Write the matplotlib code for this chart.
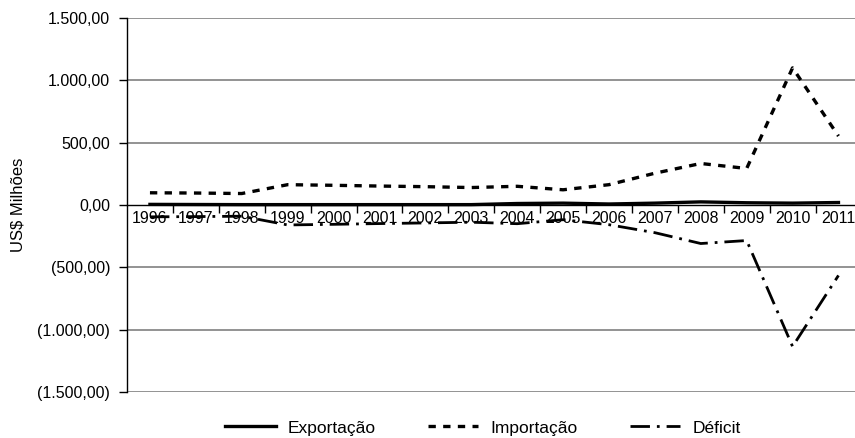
import numpy as np
import matplotlib.pyplot as plt
from matplotlib.ticker import FuncFormatter, FixedLocator

plt.rcParams['font.family'] = ['Liberation Sans', 'DejaVu Sans']
plt.rcParams['font.size'] = 11.5

anos = ['1996', '1997', '1998', '1999', '2000', '2001', '2002', '2003',
        '2004', '2005', '2006', '2007', '2008', '2009', '2010', '2011']
exportacao = [5, 4, 3, 3, 3, 3, 3, 3, 12, 15, 8, 15, 25, 18, 15, 20]
importacao = [98, 96, 92, 163, 158, 152, 147, 140, 150, 122, 163, 255, 333, 293, 1100, 553]
deficit = [-95, -93, -90, -160, -155, -149, -144, -138, -150, -118, -158, -222, -309, -285, -1135, -565]


def fmt(v, pos):
    s = '{:,.2f}'.format(abs(v)).replace(',', 'X').replace('.', ',').replace('X', '.')
    return '(' + s + ')' if v < 0 else s


fig = plt.figure(figsize=(8.55, 4.38), dpi=100)
ax = fig.add_axes([127 / 855, 1 - 392 / 438, 1 - 127 / 855, (392 - 18) / 438])

x = np.arange(len(anos))
ax.plot(x, exportacao, color='black', lw=2.4, label='Exportação')
ax.plot(x, importacao, color='black', lw=2.4, linestyle=(0, (2.2, 2.2)), label='Importação')
ax.plot(x, deficit, color='black', lw=2.0, linestyle=(0, (7, 2.5, 1, 2.5)), label='Déficit')

ax.set_ylim(-1500, 1500)
ax.set_xlim(-0.5, 15.36)
ax.set_yticks(np.arange(-1500, 1501, 500))
ax.yaxis.set_major_formatter(FuncFormatter(fmt))
for yv in np.arange(-1500, 1501, 500):
    if yv != 0:
        ax.axhline(yv, color='#808080', lw=1.2, zorder=0)

ax.spines['top'].set_visible(False)
ax.spines['right'].set_visible(False)
ax.spines['bottom'].set_position(('data', 0))
ax.spines['left'].set_linewidth(1.0)
ax.spines['bottom'].set_linewidth(1.0)

ax.set_xticks(x)
ax.set_xticklabels(anos)
ax.tick_params(axis='x', which='major', length=0, pad=4)
ax.xaxis.set_minor_locator(FixedLocator(np.arange(0.5, 15, 1)))
ax.tick_params(axis='x', which='minor', length=6, direction='out', width=1.0)
ax.tick_params(axis='y', length=6, direction='out', width=1.0, pad=6)

ax.set_ylabel('US$ Milhões', fontsize=12)
ax.yaxis.set_label_coords(-0.14, 0.5)

fig.legend(loc='center', bbox_to_anchor=(483 / 855, 1 - 428 / 438), ncol=3, frameon=False,
           handlelength=2.9, columnspacing=3.0, fontsize=12.5, handletextpad=0.7)

fig.savefig('out.png', dpi=100)
